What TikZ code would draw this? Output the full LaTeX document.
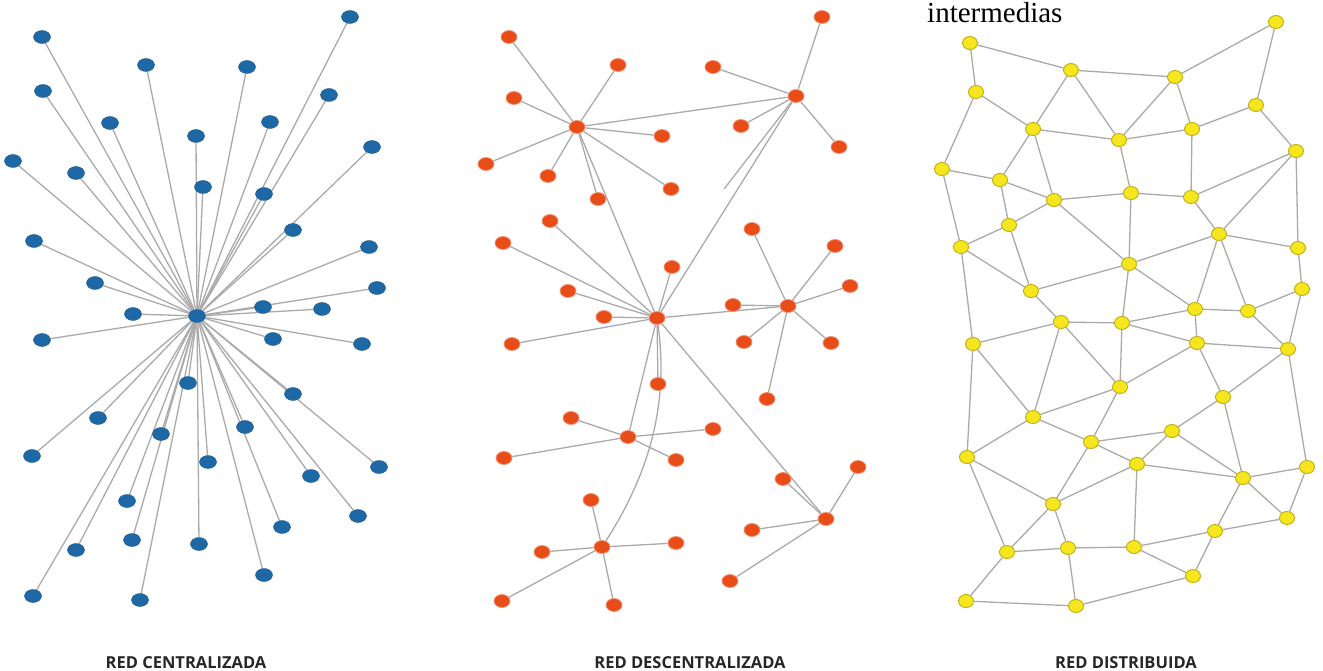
\documentclass[tikz,border=0pt]{standalone}
\usepackage{fontspec}
\setmainfont{Liberation Serif}
\newfontfamily\captionfont{Open Sans}
\usetikzlibrary{shapes.geometric,backgrounds}
\definecolor{bluenode}{RGB}{30,104,166}
\definecolor{orangenode}{RGB}{232,76,24}
\definecolor{yellownode}{RGB}{246,230,30}
\definecolor{yellowedge}{RGB}{190,172,20}
\definecolor{linkgray}{RGB}{170,170,170}
\tikzset{
	link/.style={draw=linkgray, line width=1.3pt},
	bnode/.style={ellipse, fill=bluenode, draw=bluenode!85!black, line width=0.4pt, minimum width=17pt, minimum height=13pt, inner sep=0pt},
	onode/.style={ellipse, fill=orangenode, draw=orangenode!60!white, line width=0.8pt, minimum width=16pt, minimum height=13pt, inner sep=0pt},
	ynode/.style={ellipse, fill=yellownode, draw=yellowedge, line width=0.9pt, minimum width=15pt, minimum height=13pt, inner sep=0pt},
	netlabel/.style={font=\captionfont\bfseries\fontsize{16.5}{19}\selectfont, text=black!85}
}

\begin{document}
\begin{tikzpicture}[x=1pt,y=-1pt]
	\useasboundingbox (0,0) rectangle (1323,671);

	% red centralizada
	\node[bnode] (hub) at (197,316) {};
	\foreach \n/\x/\y in {1/42/37, 2/350/17, 3/146/65, 4/247/67, 5/43/91, 6/329/95, 7/110/123, 8/196/136,
		9/270/122, 10/13/161, 11/76/173, 12/372/147, 13/203/187, 14/264/194, 15/34/241, 16/293/230,
		17/369/247, 18/95/283, 19/377/288, 20/133/314, 21/263/307, 22/322/309, 23/42/340, 24/273/339,
		25/362/344, 26/188/383, 27/293/394, 28/98/418, 29/161/434, 30/245/427, 31/32/456, 32/208/462,
		33/379/467, 34/311/476, 35/127/501, 36/358/516, 37/282/527, 38/76/550, 39/132/540, 40/199/544,
		41/264/575, 42/33/596, 43/140/600}
		\node[bnode] (c\n) at (\x,\y) {};
	\begin{scope}[on background layer]
		\foreach \n in {1,...,43}
			\draw[link] (hub) -- (c\n);
	\end{scope}

	% red descentralizada
	\foreach \h/\x/\y in {h0/657/318, h1/577/127, h2/796/96, h3/788/306, h4/628/437, h5/602/547, h6/826/519}
		\node[onode] (\h) at (\x,\y) {};
	\foreach \h/\n/\x/\y in {h1/1/509/37, h1/2/618/65, h1/3/514/98, h1/4/486/164, h1/5/548/176, h1/6/598/199,
		h1/7/662/136, h1/8/671/189, h2/1/822/17, h2/2/713/67, h2/3/741/126, h2/4/839/147,
		h0/1/550/221, h0/2/503/243, h0/3/568/291, h0/4/604/317, h0/5/672/267, h0/6/512/344, h0/7/658/384,
		h3/1/733/305, h3/2/850/286, h3/3/835/246, h3/4/752/229, h3/5/744/342, h3/6/831/343, h3/7/767/399,
		h4/1/571/418, h4/2/713/429, h4/3/504/458, h4/4/676/460,
		h5/1/591/500, h5/2/542/552, h5/3/676/543, h5/4/502/601, h5/5/614/605,
		h6/1/858/467, h6/2/783/479, h6/3/752/530, h6/4/730/581}
		\node[onode] (\h-\n) at (\x,\y) {};
	\coordinate (loose) at (724,189);
	\begin{scope}[on background layer]
		\foreach \h/\n in {h1/1, h1/2, h1/3, h1/4, h1/5, h1/6, h1/7, h1/8, h2/1, h2/2, h2/3, h2/4,
			h0/1, h0/2, h0/3, h0/4, h0/5, h0/6, h0/7, h3/1, h3/2, h3/3, h3/4, h3/5, h3/6, h3/7,
			h4/1, h4/2, h4/3, h4/4, h5/1, h5/2, h5/3, h5/4, h5/5, h6/1, h6/2, h6/3, h6/4}
			\draw[link] (\h) -- (\h-\n);
		\foreach \u/\v in {h1/h2, h1/h0, h2/h0, h0/h3, h0/h4, h0/h6}
			\draw[link] (\u) -- (\v);
		\draw[link] (h2) -- (loose);
		\draw[link] (h0) .. controls (670,410) and (645,480) .. (h5);
	\end{scope}

	% red distribuida
	\foreach \n/\x/\y in {a1/970/43, a2/1276/22, a3/1071/70, a4/1175/77, a5/976/92, a6/1256/105,
		a7/1033/129, a8/1119/140, a9/1192/129, a10/1296/151, a11/942/169, a12/1000/180, a13/1054/200,
		a14/1131/193, a15/1191/197, a16/1009/225, a17/1219/234, a18/961/247, a19/1298/248, a20/1129/264,
		a21/1302/289, a22/1031/291, a23/1195/309, a24/1248/311, a25/1061/322, a26/1122/323,
		b1/973/344, b2/1197/343, b3/1288/349, b4/1120/387, b5/1223/397, b6/1033/417, b7/1091/442,
		b8/1172/431, b9/1137/464, b10/967/457, b11/1243/478, b12/1307/467, b13/1053/504, b14/1287/518,
		b15/1215/531, b16/1007/552, b17/1068/548, b18/1134/547, b19/1193/576, b20/966/601, b21/1076/606}
		\node[ynode] (\n) at (\x,\y) {};
	\begin{scope}[on background layer]
		\foreach \u/\v in {a1/a5, a1/a3, a3/a4, a4/a2, a2/a6, a5/a11, a5/a7, a3/a7, a3/a8, a4/a8, a4/a9,
			a7/a8, a8/a9, a9/a6, a6/a10, a7/a12, a7/a13, a11/a12, a12/a13, a8/a14, a9/a15, a13/a14,
			a14/a15, a10/a15, a10/a17, a10/a19, a12/a16, a13/a16, a11/a18, a16/a18, a13/a20, a14/a20,
			a15/a17, a17/a20, a17/a19, a17/a23, a17/a24, a19/a21, a16/a22, a18/a22, a20/a22, a20/a23,
			a20/a26, a22/a25, a23/a24, a24/a21, a25/a26, a26/a23, a26/b2, a23/b2, a18/b1, a25/b1,
			a25/b6, a25/b4, a26/b4, a21/b3, a24/b3,
			b2/b3, b2/b5, b2/b4, b3/b5, b3/b12, b1/b6, b1/b10, b6/b4, b6/b7, b6/b10, b4/b7, b7/b8,
			b7/b9, b7/b13, b8/b5, b8/b9, b8/b11, b5/b11, b9/b11, b9/b13, b9/b18, b10/b13, b10/b16,
			b11/b12, b11/b14, b11/b15, b12/b14, b14/b15, b15/b18, b15/b19, b18/b19, b18/b17, b13/b16,
			b13/b17, b16/b17, b16/b20, b17/b21, b20/b21, b21/b19}
			\draw[link] (\u) -- (\v);
	\end{scope}

	\node[anchor=base west, font=\fontsize{29}{31}\selectfont, inner sep=0pt] (note) at (927,23) {intermedias};

	\node[netlabel] (lcen) at (186,663) {RED CENTRALIZADA};
	\node[netlabel] (ldes) at (690,663) {RED DESCENTRALIZADA};
	\node[netlabel] (ldis) at (1126,663) {RED DISTRIBUIDA};
\end{tikzpicture}
\end{document}
